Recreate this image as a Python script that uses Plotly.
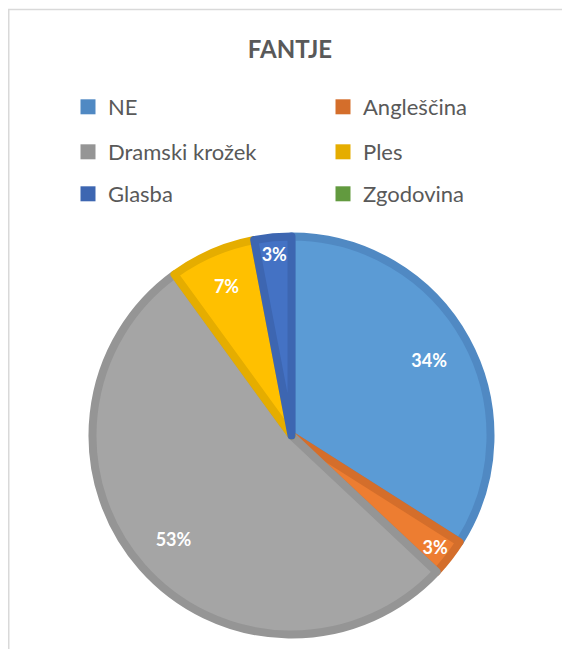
"""Pie chart: FANTJE."""

import plotly.graph_objects as go

labels = ['NE', 'Angleščina', 'Dramski krožek', 'Ples', 'Glasba', 'Zgodovina']
values = [34, 3, 53, 7, 3, 0]

fill_colors = ['#5B9BD5', '#ED7D31', '#A5A5A5', '#FFC000', '#4472C4', '#70AD47']
edge_colors = ['#5089C3', '#D46E2B', '#959595', '#E5AD00', '#3D66B1', '#629A3F']

W, H = 570, 649
OFF = 8  # the page's default body margin shifts the figure by this much

# legend grid: two columns, three rows (page pixels)
col_x = [68, 323]
row_y = [107, 152, 194]

cx, cy, r = 291.5 - OFF, 435.5 - OFF, 199
domain = dict(x=[(cx - r) / W, (cx + r) / W],
              y=[(H - cy - r) / H, (H - cy + r) / H])

fig = go.Figure()

# the slices
fig.add_trace(
    go.Pie(
        labels=labels,
        values=values,
        sort=False,
        direction='clockwise',
        rotation=0,
        marker=dict(colors=fill_colors,
                    line=dict(color=edge_colors,
                              width=[8 if v else 0 for v in values])),
        textinfo='none',
        showlegend=False,
        hoverinfo='label+percent',
        domain=domain,
    )
)

# transparent ring on top that carries the percent labels near the rim
fig.add_trace(
    go.Pie(
        labels=labels,
        values=values,
        sort=False,
        direction='clockwise',
        rotation=0,
        hole=0.58,
        marker=dict(colors=['rgba(0,0,0,0)'] * len(values),
                    line=dict(width=0)),
        texttemplate=['%{percent:.0%}' if v else '' for v in values],
        textposition='inside',
        insidetextorientation='horizontal',
        textfont=dict(family='Lato', size=18, color='white', weight='bold'),
        showlegend=False,
        hoverinfo='skip',
        domain=domain,
    )
)

# legend: one small legend per entry so the grid stays put
for k, label in enumerate(labels):
  name = 'legend' if k == 0 else f'legend{k + 1}'
  fig.add_trace(
      go.Scatter(
          x=[None], y=[None], mode='markers', name=label,
          marker=dict(symbol='square', size=15, color=edge_colors[k]),
          legend=name,
      )
  )
  fig.update_layout({
      name: dict(
          x=(col_x[k % 2] - OFF) / W, xanchor='left',
          y=1 - (row_y[k // 2] - OFF) / H, yanchor='middle',
          font=dict(family='Lato', size=22, color='#595959'),
          bgcolor='rgba(0,0,0,0)',
      )
  })

fig.update_layout(
    width=W, height=H,
    margin=dict(l=0, r=0, t=0, b=0),
    paper_bgcolor='white',
    plot_bgcolor='white',
    xaxis=dict(visible=False),
    yaxis=dict(visible=False),
    title=dict(text='<b>FANTJE</b>', x=(290 - OFF) / W, xanchor='center',
               y=1 - (50 - OFF) / H, yanchor='middle',
               font=dict(family='Lato', size=24, color='#595959')),
    uniformtext=dict(minsize=18, mode='show'),
    shapes=[dict(type='rect', xref='paper', yref='paper',
                 x0=0.75 / W, x1=1.02, y0=-0.02,
                 y1=1 - (9.5 - OFF) / H,
                 line=dict(color='#D9D9D9', width=1.5))],
)

fig.write_html('out.html')
